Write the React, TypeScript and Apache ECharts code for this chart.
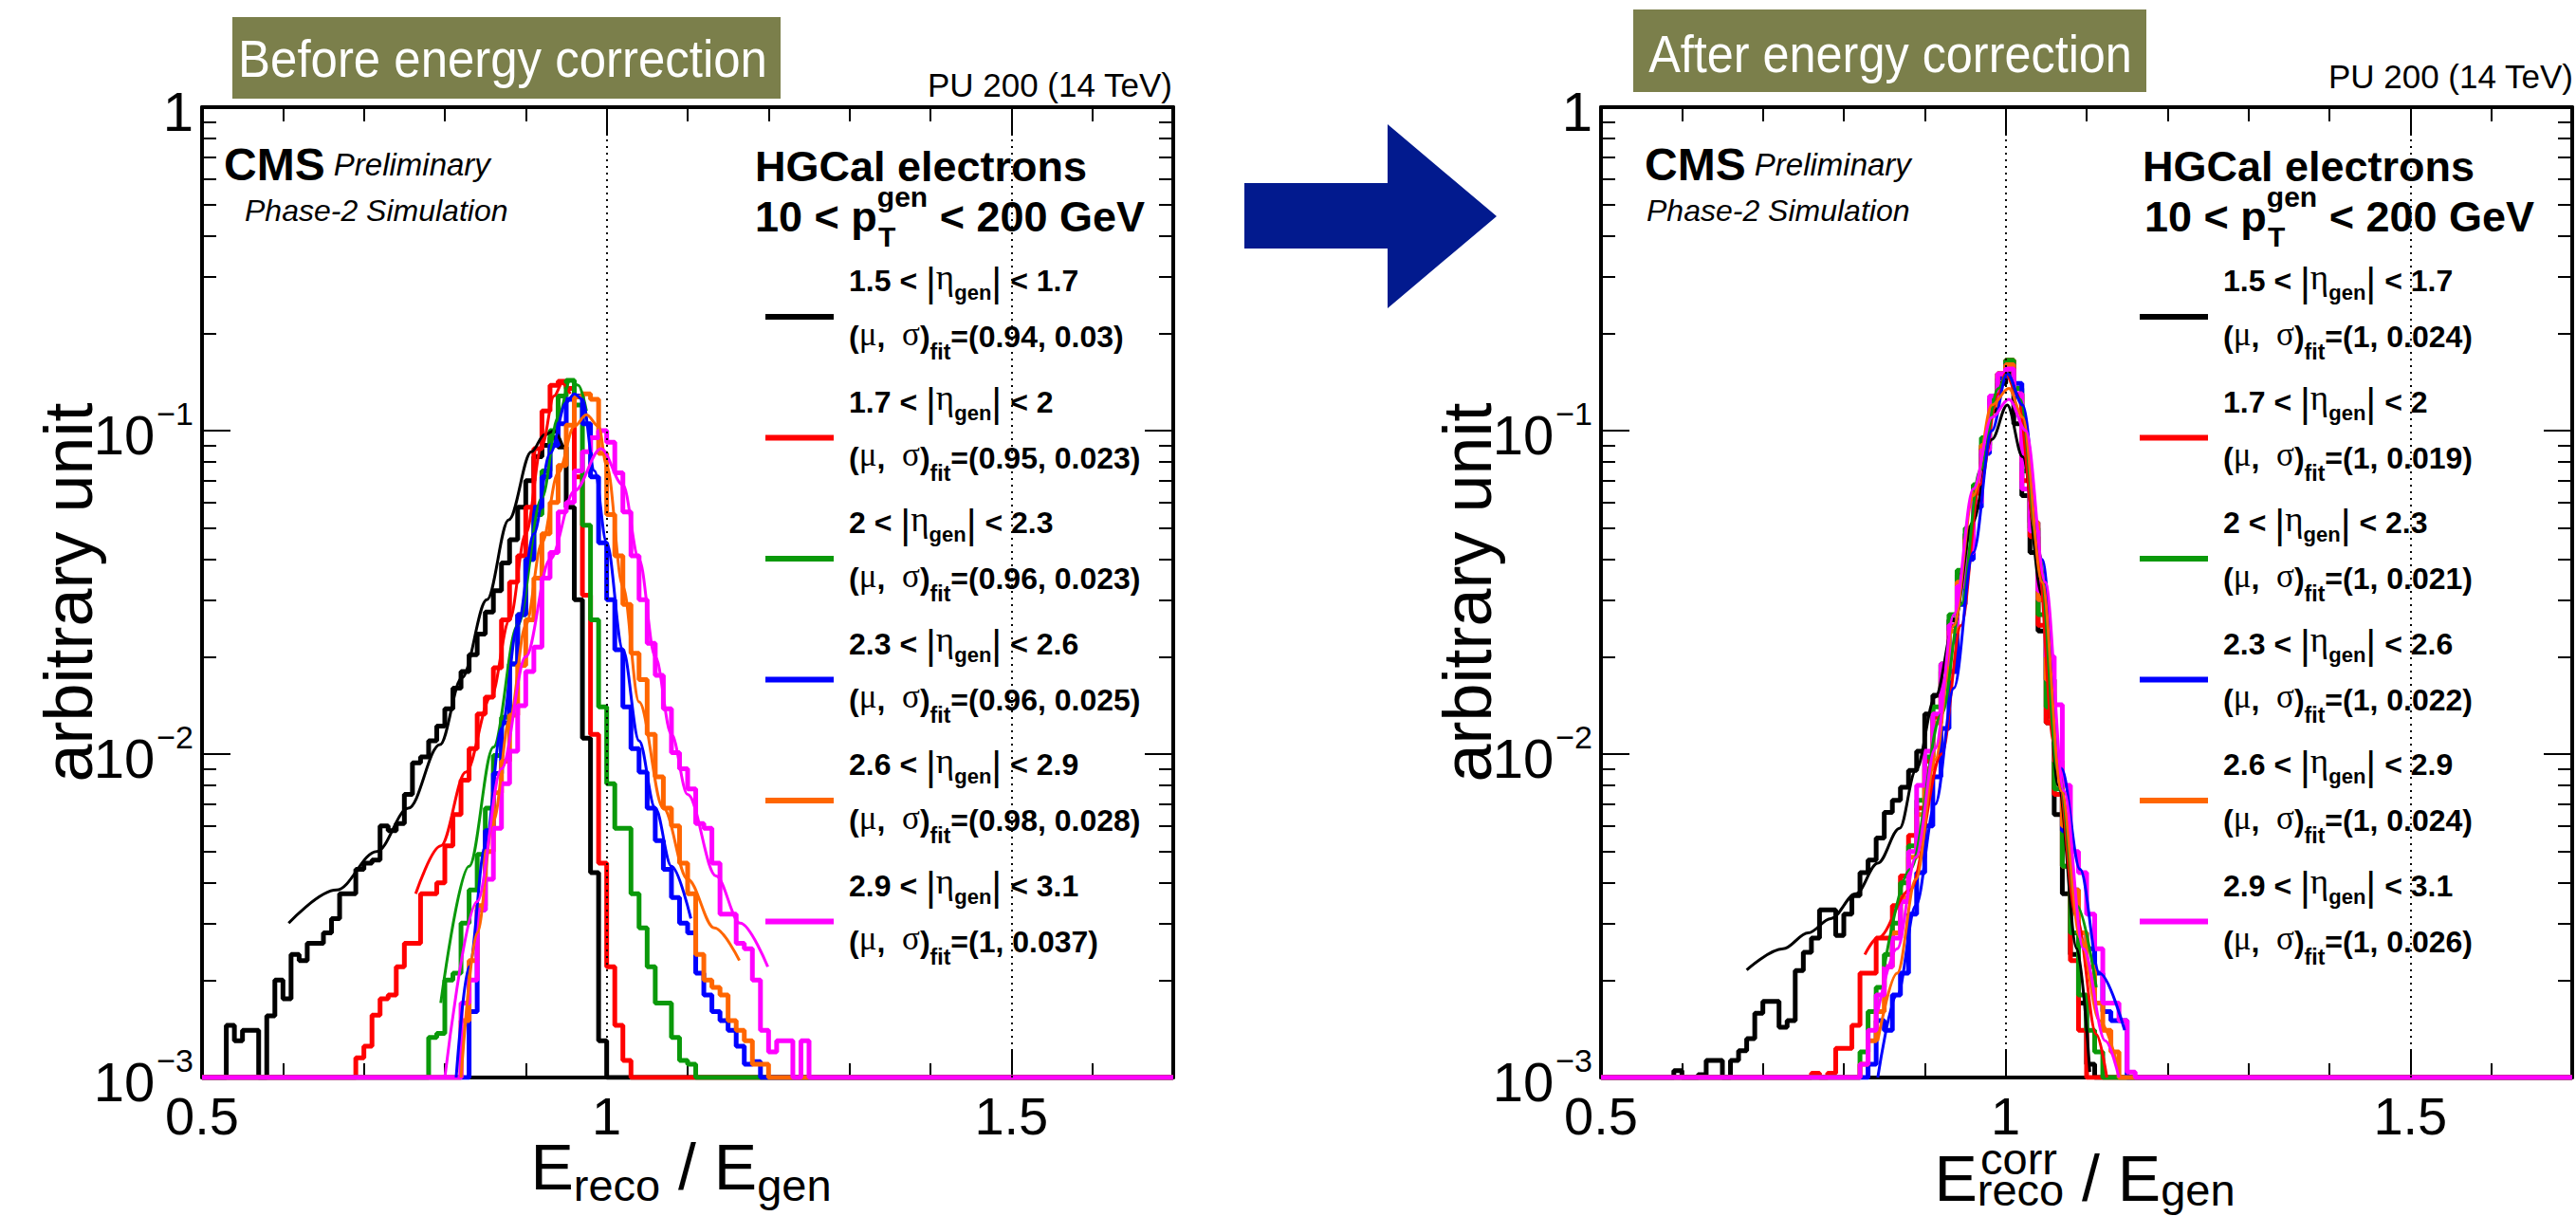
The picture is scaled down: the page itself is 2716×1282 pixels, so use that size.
import React, { useEffect, useRef } from 'react';
import * as echarts from 'echarts';

const FONT = 'Liberation Sans';
const SERIF = 'Liberation Serif';

const X_MIN = 0.5;
const X_MAX = 1.7;
const BIN_WIDTH = 0.01;
const Y_MIN = 0.001;
const Y_MAX = 1;

const X_LABEL_VALUES = [0.5, 1, 1.5];
const Y_MINOR_MULT = [2, 3, 4, 5, 6, 7, 8, 9];
const Y_DECADE_EXP = [-3, -2, -1];
const REF_LINES = [1, 1.5];

const COLORS = ['#000000', '#ff0000', '#0a990a', '#0000ff', '#ff6600', '#ff00ff'];
const ETA_LOW = ['1.5', '1.7', '2', '2.3', '2.6', '2.9'];
const ETA_HIGH = ['1.7', '2', '2.3', '2.6', '2.9', '3.1'];
const FIT_BEFORE = ['(0.94, 0.03)', '(0.95, 0.023)', '(0.96, 0.023)', '(0.96, 0.025)', '(0.98, 0.028)', '(1, 0.037)'];
const FIT_AFTER = ['(1, 0.024)', '(1, 0.019)', '(1, 0.021)', '(1, 0.022)', '(1, 0.024)', '(1, 0.026)'];

// ---- Histograms before correction (first non-empty bin low edge, then bin contents, bin width 0.01)
const BEFORE_STARTS = [0.53, 0.69, 0.78, 0.83, 0.82, 0.82];
const BEFORE_BLACK = [0.00145, 0.0013, 0.0014, 0.0014, 0.001, 0.00155, 0.002, 0.00175, 0.0024, 0.0023, 0.0026, 0.0026, 0.0028, 0.0031, 0.0037, 0.0037, 0.0044, 0.0046, 0.0047, 0.006, 0.0058, 0.0061, 0.0075, 0.0094, 0.0098, 0.011, 0.0122, 0.0138, 0.016, 0.018, 0.0203, 0.0235, 0.0275, 0.032, 0.039, 0.046, 0.058, 0.07, 0.083, 0.09, 0.095, 0.089, 0.058, 0.03, 0.0112, 0.0043, 0.0013];
const BEFORE_RED = [0.00115, 0.00125, 0.00156, 0.00175, 0.0018, 0.0022, 0.0026, 0.0026, 0.0037, 0.0037, 0.004, 0.0052, 0.0065, 0.0083, 0.0104, 0.0133, 0.015, 0.0185, 0.026, 0.034, 0.041, 0.058, 0.088, 0.115, 0.138, 0.142, 0.135, 0.072, 0.031, 0.0115, 0.0046, 0.0022, 0.00145, 0.00113];
const BEFORE_GREEN = [0.00133, 0.00137, 0.002, 0.0021, 0.003, 0.0038, 0.0049, 0.0068, 0.0099, 0.013, 0.019, 0.027, 0.04, 0.055, 0.075, 0.1, 0.128, 0.143, 0.12, 0.051, 0.026, 0.014, 0.0081, 0.0059, 0.0059, 0.0037, 0.0029, 0.0022, 0.0017, 0.0017, 0.00133, 0.00113, 0.0011];
const BEFORE_BLUE = [0.0016, 0.0033, 0.0058, 0.0087, 0.0125, 0.019, 0.027, 0.04, 0.058, 0.072, 0.09, 0.105, 0.125, 0.128, 0.105, 0.072, 0.045, 0.03, 0.021, 0.014, 0.0104, 0.0088, 0.0068, 0.0054, 0.0044, 0.0036, 0.003, 0.0028, 0.0021, 0.0018, 0.0016, 0.0015, 0.0014, 0.00125, 0.0011, 0.00112];
const BEFORE_ORANGE = [0.0015, 0.0023, 0.0034, 0.005, 0.0076, 0.0095, 0.0132, 0.0188, 0.026, 0.035, 0.048, 0.06, 0.078, 0.104, 0.127, 0.13, 0.125, 0.085, 0.055, 0.041, 0.029, 0.0205, 0.017, 0.0115, 0.0085, 0.0068, 0.006, 0.0046, 0.0037, 0.0024, 0.002, 0.0019, 0.0018, 0.0015, 0.0014, 0.0013, 0.0011, 0.0011];
const BEFORE_MAGENTA = [0.0017, 0.002, 0.0033, 0.0041, 0.0059, 0.0081, 0.0102, 0.0141, 0.018, 0.0214, 0.035, 0.042, 0.056, 0.06, 0.075, 0.086, 0.095, 0.1, 0.092, 0.074, 0.056, 0.041, 0.03, 0.022, 0.0175, 0.0138, 0.0101, 0.009, 0.0078, 0.0061, 0.0059, 0.0046, 0.0032, 0.0032, 0.0026, 0.0025, 0.002, 0.0014, 0.0012, 0.0013, 0.0013, 0.001, 0.0013];

// ---- Histograms after correction
const AFTER_STARTS = [0.59, 0.76, 0.82, 0.83, 0.82, 0.82];
const AFTER_BLACK = [0.00105, 0.001, 0.001, 0.00102, 0.00113, 0.00113, 0.001, 0.00113, 0.00121, 0.00132, 0.00158, 0.00172, 0.00172, 0.00143, 0.0015, 0.00214, 0.00244, 0.0027, 0.0033, 0.0033, 0.00275, 0.0032, 0.00365, 0.0043, 0.0047, 0.0055, 0.0066, 0.0072, 0.0079, 0.0089, 0.0102, 0.0133, 0.0152, 0.0189, 0.026, 0.036, 0.048, 0.065, 0.088, 0.115, 0.14, 0.15, 0.105, 0.063, 0.042, 0.024, 0.0125, 0.0065, 0.0037, 0.0024, 0.0017, 0.0011];
const AFTER_RED = [0.00103, 0.001, 0.00103, 0.00123, 0.00123, 0.00145, 0.0021, 0.0021, 0.0027, 0.0027, 0.0034, 0.0042, 0.0056, 0.0068, 0.0095, 0.013, 0.018, 0.025, 0.034, 0.047, 0.066, 0.09, 0.125, 0.15, 0.165, 0.13, 0.07, 0.047, 0.025, 0.0125, 0.0075, 0.0045, 0.0023, 0.0014, 0.001];
const AFTER_GREEN = [0.0012, 0.0016, 0.0019, 0.0024, 0.003, 0.004, 0.0052, 0.0072, 0.0098, 0.014, 0.019, 0.027, 0.037, 0.05, 0.068, 0.095, 0.125, 0.15, 0.165, 0.135, 0.075, 0.05, 0.027, 0.014, 0.0078, 0.0045, 0.0028, 0.0018, 0.0014, 0.0012];
const AFTER_BLUE = [0.0011, 0.0015, 0.0014, 0.0018, 0.0021, 0.0032, 0.0043, 0.006, 0.0085, 0.012, 0.018, 0.029, 0.04, 0.058, 0.085, 0.12, 0.145, 0.16, 0.14, 0.08, 0.052, 0.03, 0.017, 0.0095, 0.0058, 0.0038, 0.0028, 0.0025, 0.0021, 0.0016, 0.0015, 0.0015];
const AFTER_ORANGE = [0.0011, 0.0013, 0.0016, 0.0022, 0.0028, 0.0036, 0.0048, 0.0065, 0.009, 0.0125, 0.017, 0.024, 0.034, 0.046, 0.064, 0.09, 0.12, 0.15, 0.16, 0.13, 0.08, 0.052, 0.03, 0.017, 0.0095, 0.006, 0.0038, 0.0028, 0.0022, 0.0017, 0.0014, 0.0012];
const AFTER_MAGENTA = [0.0011, 0.0014, 0.0018, 0.0022, 0.0027, 0.0035, 0.005, 0.008, 0.0102, 0.0133, 0.019, 0.025, 0.033, 0.042, 0.06, 0.087, 0.128, 0.15, 0.155, 0.13, 0.066, 0.049, 0.032, 0.02, 0.0142, 0.008, 0.005, 0.0043, 0.0032, 0.0025, 0.0017, 0.0017, 0.0015, 0.00104];

// ---- Fit curves: [x, y]
const FIT_BEFORE_BLACK = [[0.607, 0.003], [0.666, 0.0038], [0.716, 0.005], [0.755, 0.0068], [0.794, 0.0107], [0.821, 0.0172], [0.852, 0.03], [0.879, 0.053], [0.907, 0.086], [0.923, 0.097], [0.935, 0.1], [0.946, 0.089]];
const FIT_BEFORE_RED = [[0.764, 0.0037], [0.795, 0.0052], [0.826, 0.0088], [0.857, 0.015], [0.88, 0.026], [0.9, 0.048], [0.92, 0.09], [0.935, 0.128], [0.945, 0.14], [0.955, 0.13]];
const FIT_BEFORE_GREEN = [[0.795, 0.0017], [0.83, 0.0045], [0.86, 0.0105], [0.89, 0.025], [0.92, 0.062], [0.94, 0.11], [0.955, 0.143], [0.965, 0.138], [0.975, 0.115]];
const FIT_BEFORE_BLUE = [[0.814, 0.001], [0.83, 0.0022], [0.85, 0.0052], [0.87, 0.012], [0.89, 0.025], [0.91, 0.048], [0.93, 0.085], [0.95, 0.122], [0.96, 0.13], [0.97, 0.125], [0.985, 0.075], [1.0, 0.045], [1.02, 0.021], [1.04, 0.011], [1.06, 0.0068], [1.08, 0.0045], [1.104, 0.0031]];
const FIT_BEFORE_ORANGE = [[0.82, 0.001], [0.84, 0.0028], [0.86, 0.0062], [0.88, 0.0128], [0.9, 0.025], [0.92, 0.045], [0.94, 0.074], [0.96, 0.103], [0.975, 0.112], [0.99, 0.103], [1.0, 0.078], [1.02, 0.033], [1.04, 0.0145], [1.07, 0.0068], [1.1, 0.0041], [1.133, 0.0029], [1.164, 0.0023]];
const FIT_BEFORE_MAGENTA = [[0.8, 0.001], [0.84, 0.0035], [0.87, 0.009], [0.9, 0.02], [0.93, 0.04], [0.96, 0.065], [0.993, 0.088], [1.02, 0.068], [1.04, 0.04], [1.06, 0.02], [1.08, 0.0115], [1.1, 0.0075], [1.135, 0.0042], [1.165, 0.003], [1.199, 0.0022]];

const FIT_AFTER_BLACK = [[0.68, 0.00215], [0.725, 0.0025], [0.756, 0.0028], [0.784, 0.0031], [0.815, 0.0037], [0.842, 0.0046], [0.869, 0.0059], [0.889, 0.0089], [0.913, 0.015], [0.936, 0.025], [0.959, 0.052], [0.983, 0.094], [1.002, 0.12], [1.021, 0.083], [1.045, 0.031], [1.065, 0.008], [1.088, 0.0025], [1.104, 0.00104]];
const FIT_AFTER_RED = [[0.826, 0.0024], [0.842, 0.0027], [0.882, 0.0038], [0.921, 0.01], [0.945, 0.025], [0.968, 0.068], [0.991, 0.13], [1.0, 0.15], [1.014, 0.13], [1.037, 0.049], [1.06, 0.0108], [1.088, 0.0031], [1.112, 0.00136], [1.125, 0.001]];
const FIT_AFTER_GREEN = [[0.85, 0.0022], [0.882, 0.0044], [0.921, 0.0133], [0.945, 0.029], [0.968, 0.075], [0.991, 0.135], [1.002, 0.15], [1.018, 0.125], [1.041, 0.042], [1.065, 0.0088], [1.088, 0.0034], [1.112, 0.0019]];
const FIT_AFTER_BLUE = [[0.842, 0.001], [0.866, 0.0018], [0.889, 0.0034], [0.913, 0.007], [0.936, 0.016], [0.96, 0.042], [0.983, 0.1], [1.002, 0.15], [1.021, 0.12], [1.045, 0.04], [1.069, 0.009], [1.092, 0.0044], [1.116, 0.0021], [1.147, 0.0014]];
const FIT_AFTER_ORANGE = [[0.842, 0.0013], [0.866, 0.0021], [0.889, 0.0041], [0.913, 0.0096], [0.936, 0.025], [0.96, 0.063], [0.983, 0.12], [1.004, 0.135], [1.021, 0.11], [1.045, 0.034], [1.069, 0.0077], [1.092, 0.0027], [1.116, 0.0015], [1.14, 0.00105]];
const FIT_AFTER_MAGENTA = [[0.842, 0.0016], [0.866, 0.0025], [0.889, 0.0048], [0.913, 0.0104], [0.936, 0.027], [0.96, 0.066], [0.983, 0.11], [1.004, 0.125], [1.025, 0.1], [1.049, 0.034], [1.072, 0.0077], [1.096, 0.0025], [1.123, 0.0013], [1.14, 0.001]];

const BOX_COLOR = '#7b7f4b';
const ARROW_COLOR = '#021a8e';

function histPoints(start: number, vals: number[]): number[][] {
  const nBins = Math.round((X_MAX - X_MIN) / BIN_WIDTH);
  const s = Math.round((start - X_MIN) / BIN_WIDTH);
  const pts: number[][] = [];
  let last = Y_MIN;
  for (let k = 0; k < nBins; k++) {
    const j = k - s;
    const v = j >= 0 && j < vals.length ? vals[j] : Y_MIN;
    pts.push([+(X_MIN + k * BIN_WIDTH).toFixed(4), v]);
    last = v;
  }
  pts.push([X_MAX, last]);
  return pts;
}

const TICK_STYLE = { color: '#000', width: 2 };
const FRAME_STYLE = { color: '#000', width: 4 };

const Y_LABEL_RICH = {
  b: { fontFamily: FONT, fontSize: 58, color: '#000', verticalAlign: 'top', height: 0, lineHeight: 60, padding: [34, 0, 0, 0] },
  s: { fontFamily: FONT, fontSize: 34, color: '#000', verticalAlign: 'top', height: 0, lineHeight: 60, padding: [12, 0, 0, 2] },
};

const X_TITLE_RICH = {
  m: { fontFamily: FONT, fontSize: 68, color: '#000', verticalAlign: 'top', height: 0, lineHeight: 80, padding: [40, 0, 0, 0] },
  s: { fontFamily: FONT, fontSize: 47, color: '#000', verticalAlign: 'top', height: 0, lineHeight: 80, padding: [60, 0, 0, 0] },
  se: { fontFamily: FONT, fontSize: 47, color: '#000', verticalAlign: 'top', height: 0, lineHeight: 80, padding: [60, 14, 0, 0] },
  r: { fontFamily: FONT, fontSize: 47, color: '#000', verticalAlign: 'top', height: 0, lineHeight: 80, padding: [52, 0, 0, 0] },
  re: { fontFamily: FONT, fontSize: 47, color: '#000', verticalAlign: 'top', height: 0, lineHeight: 80, padding: [52, 4, 0, 0] },
};
const X_TITLES = ['{m|E}{s|reco}{m| / E}{se|gen}', '{m|E}{r|reco}{m| / E}{re|gen}'];

const LT = { fontFamily: FONT, fontWeight: 'bold', fontSize: 32, color: '#000', verticalAlign: 'top', height: 0 };
const LEG_RICH = {
  a: { ...LT, lineHeight: 59, padding: [30, 0, 0, 11] },
  t: { ...LT, lineHeight: 59, padding: [30, 0, 0, 0] },
  bar: { fontFamily: FONT, fontSize: 42, color: '#000', verticalAlign: 'top', height: 0, lineHeight: 59, padding: [31, 0, 0, 0] },
  eta: { fontFamily: SERIF, fontSize: 37, color: '#000', verticalAlign: 'top', height: 0, lineHeight: 59, padding: [26, 0, 0, 0] },
  sub: { ...LT, fontSize: 22, lineHeight: 59, padding: [42, 0, 0, 0] },
  a2: { ...LT, lineHeight: 77, padding: [30, 0, 0, 11] },
  t2: { ...LT, lineHeight: 77, padding: [30, 0, 0, 0] },
  sym: { fontFamily: SERIF, fontSize: 35, color: '#000', verticalAlign: 'top', height: 0, lineHeight: 77, padding: [27, 0, 0, 0] },
  sub2: { ...LT, fontSize: 23, lineHeight: 77, padding: [46, 0, 0, 0] },
};

function legendText(i: number, fits: string[]): string {
  return `{a|${ETA_LOW[i]} < }{bar||}{eta|η}{sub|gen}{bar||}{t| < ${ETA_HIGH[i]}}\n{a2|(}{sym|μ}{t2|,  }{sym|σ}{t2|)}{sub2|fit}{t2|=${fits[i]}}`;
}

function xLabel(v: number): string {
  return X_LABEL_VALUES.some((t) => Math.abs(t - v) < 1e-6) ? String(Math.round(v * 10) / 10) : '';
}

function yLabel(v: number): string {
  const e = Math.round(Math.log10(v));
  return e === 0 ? '{b|1}' : `{b|10}{s|\u2212${-e}}`;
}

function txt(x: number, y: number, text: string, extra: any, el: any = {}) {
  return {
    type: 'text', x, y, silent: true, ...el,
    style: { text, fill: '#000', fontFamily: FONT, align: 'left', textAlign: 'left', verticalAlign: 'middle', textVerticalAlign: 'middle', ...extra },
  };
}

function buildOption() {
  const minorPos = Y_DECADE_EXP.flatMap((d) => Y_MINOR_MULT.map((m) => d + Math.log10(m)));
  const panels = [
    {
      tag: 'before', starts: BEFORE_STARTS, fitText: FIT_BEFORE, legendLeft: 807,
      hists: [BEFORE_BLACK, BEFORE_RED, BEFORE_GREEN, BEFORE_BLUE, BEFORE_ORANGE, BEFORE_MAGENTA],
      fits: [FIT_BEFORE_BLACK, FIT_BEFORE_RED, FIT_BEFORE_GREEN, FIT_BEFORE_BLUE, FIT_BEFORE_ORANGE, FIT_BEFORE_MAGENTA],
    },
    {
      tag: 'after', starts: AFTER_STARTS, fitText: FIT_AFTER, legendLeft: 2256,
      hists: [AFTER_BLACK, AFTER_RED, AFTER_GREEN, AFTER_BLUE, AFTER_ORANGE, AFTER_MAGENTA],
      fits: [FIT_AFTER_BLACK, FIT_AFTER_RED, FIT_AFTER_GREEN, FIT_AFTER_BLUE, FIT_AFTER_ORANGE, FIT_AFTER_MAGENTA],
    },
  ];
  const grids = [
    { left: 213, top: 113, width: 1024, height: 1023, outerBoundsMode: 'none', containLabel: false },
    { left: 1688, top: 113, width: 1024, height: 1023, outerBoundsMode: 'none', containLabel: false },
  ];
  const xAxis: any[] = [];
  const yAxis: any[] = [];
  const series: any[] = [];
  const legend: any[] = [];

  panels.forEach((p, g) => {
    const xb = { gridIndex: g, type: 'value', min: X_MIN, max: X_MAX, splitLine: { show: false }, silent: true };
    xAxis.push({
      ...xb, position: 'bottom', interval: 0.5,
      axisLine: { show: true, onZero: false, lineStyle: FRAME_STYLE },
      axisTick: { show: true, inside: true, length: 30, lineStyle: TICK_STYLE },
      axisLabel: { show: true, margin: 12, fontSize: 56, fontFamily: FONT, color: '#000', lineHeight: 56, formatter: xLabel },
      name: X_TITLES[g], nameLocation: 'middle', nameGap: g === 0 ? 53.5 : 66, nameMoveOverlap: false,
      nameTextStyle: { rich: X_TITLE_RICH },
    });
    xAxis.push({
      ...xb, position: 'bottom', interval: 0.1, axisLine: { show: false, onZero: false },
      axisTick: { show: true, inside: true, length: 15, lineStyle: TICK_STYLE }, axisLabel: { show: false },
    });
    xAxis.push({
      ...xb, position: 'top', interval: 0.5,
      axisLine: { show: true, onZero: false, lineStyle: FRAME_STYLE },
      axisTick: { show: true, inside: true, length: 30, lineStyle: TICK_STYLE }, axisLabel: { show: false },
    });
    xAxis.push({
      ...xb, position: 'top', interval: 0.1, axisLine: { show: false, onZero: false },
      axisTick: { show: true, inside: true, length: 15, lineStyle: TICK_STYLE }, axisLabel: { show: false },
    });

    const yl = { gridIndex: g, type: 'log', logBase: 10, min: Y_MIN, max: Y_MAX, splitLine: { show: false }, silent: true };
    const ym = { gridIndex: g, type: 'value', min: -3, max: 0, splitLine: { show: false }, silent: true, axisLine: { show: false, onZero: false }, axisLabel: { show: false } };
    yAxis.push({
      ...yl, position: 'left',
      axisLine: { show: true, onZero: false, lineStyle: FRAME_STYLE },
      axisTick: { show: true, inside: true, length: 30, lineStyle: TICK_STYLE },
      axisLabel: { show: true, margin: 9, formatter: yLabel, rich: Y_LABEL_RICH },
      name: 'arbitrary unit', nameLocation: 'middle', nameRotate: 90, nameGap: 105, nameMoveOverlap: false,
      nameTextStyle: { fontSize: 72, fontFamily: FONT, color: '#000', lineHeight: 72 },
    });
    yAxis.push({ ...ym, position: 'left', axisTick: { show: true, inside: true, length: 15, customValues: minorPos, lineStyle: TICK_STYLE } });
    yAxis.push({
      ...yl, position: 'right',
      axisLine: { show: true, onZero: false, lineStyle: FRAME_STYLE },
      axisTick: { show: true, inside: true, length: 30, lineStyle: TICK_STYLE }, axisLabel: { show: false },
    });
    yAxis.push({ ...ym, position: 'right', axisTick: { show: true, inside: true, length: 15, customValues: minorPos, lineStyle: TICK_STYLE } });

    const names: string[] = [];
    p.hists.forEach((h, i) => {
      const name = `${ETA_LOW[i]} < |η_gen| < ${ETA_HIGH[i]} (${p.tag})`;
      names.push(name);
      series.push({
        type: 'line', name, xAxisIndex: g * 4, yAxisIndex: g * 4,
        data: histPoints(p.starts[i], h), step: 'end', symbol: 'none', showSymbol: false,
        lineStyle: { color: COLORS[i], width: 5 }, itemStyle: { color: COLORS[i] },
        z: 2, silent: true, clip: true, emphasis: { disabled: true },
        markLine: i === 0 ? {
          silent: true, symbol: ['none', 'none'], label: { show: false },
          lineStyle: { color: '#000', type: [2, 5], width: 2 },
          data: REF_LINES.map((v) => ({ xAxis: v })),
        } : undefined,
      });
    });
    p.fits.forEach((f, i) => {
      series.push({
        type: 'line', name: `fit ${ETA_LOW[i]}-${ETA_HIGH[i]} (${p.tag})`, xAxisIndex: g * 4, yAxisIndex: g * 4,
        data: f, smooth: 0.35, smoothMonotone: 'x', symbol: 'none', showSymbol: false,
        lineStyle: { color: COLORS[i], width: 3 }, itemStyle: { color: COLORS[i] },
        z: 3, silent: true, clip: true, emphasis: { disabled: true },
      });
    });
    legend.push({
      show: true, orient: 'vertical', left: p.legendLeft, top: 266, padding: 0, itemGap: 11,
      itemWidth: 72, itemHeight: 6, icon: 'rect', selectedMode: false, data: names,
      itemStyle: { borderWidth: 0 },
      formatter: (name: string) => legendText(names.indexOf(name), p.fitText),
      textStyle: { color: '#000', rich: LEG_RICH },
    });
  });

  const headRich = {
    m: { fontFamily: FONT, fontWeight: 'bold', fontSize: 45, fill: '#000', verticalAlign: 'top', height: 0, lineHeight: 10, padding: [26, 0, 0, 0] },
    g: { fontFamily: FONT, fontWeight: 'bold', fontSize: 30, fill: '#000', verticalAlign: 'top', height: 0, lineHeight: 10, padding: [5, 0, 0, 0] },
  };
  const cmsRich = {
    b: { fontFamily: FONT, fontWeight: 'bold', fontSize: 48, fill: '#000' },
    i: { fontFamily: FONT, fontStyle: 'italic', fontSize: 33, fill: '#000' },
  };

  const graphic: any[] = [
    { type: 'rect', silent: true, shape: { x: 245, y: 18, width: 578, height: 86 }, style: { fill: BOX_COLOR } },
    txt(0, 0, 'Before energy correction', { fill: '#ffffff', fontSize: 56, align: 'center', textAlign: 'center' }, { x: 530, y: 62, scaleX: 0.91 }),
    { type: 'rect', silent: true, shape: { x: 1722, y: 10, width: 541, height: 87 }, style: { fill: BOX_COLOR } },
    txt(0, 0, 'After energy correction', { fill: '#ffffff', fontSize: 56, align: 'center', textAlign: 'center' }, { x: 1993, y: 57, scaleX: 0.9 }),
    {
      type: 'polygon', silent: true,
      shape: { points: [[1312, 193], [1463, 193], [1463, 131], [1578, 228], [1463, 325], [1463, 262], [1312, 262]] },
      style: { fill: ARROW_COLOR },
    },
    txt(1236, 89, 'PU 200 (14 TeV)', { fontSize: 35, align: 'right', textAlign: 'right' }),
    txt(2713, 80, 'PU 200 (14 TeV)', { fontSize: 35, align: 'right', textAlign: 'right' }),
    txt(236, 173, '{b|CMS} {i|Preliminary}', { fontSize: 33, rich: cmsRich }),
    txt(258, 222, 'Phase-2 Simulation', { fontSize: 32, fontStyle: 'italic' }),
    txt(1734, 173, '{b|CMS} {i|Preliminary}', { fontSize: 33, rich: cmsRich }),
    txt(1736, 222, 'Phase-2 Simulation', { fontSize: 32, fontStyle: 'italic' }),
    txt(796, 175, 'HGCal electrons', { fontSize: 45, fontWeight: 'bold', lineHeight: 44 }),
    txt(2259, 175, 'HGCal electrons', { fontSize: 45, fontWeight: 'bold', lineHeight: 44 }),
    txt(796, 202, '{m|10 < p}{g|gen}{m| < 200 GeV}', { verticalAlign: 'top', textVerticalAlign: 'top', rich: headRich }),
    txt(926, 249, 'T', { fontSize: 30, fontWeight: 'bold', lineHeight: 24 }),
    txt(2261, 202, '{m|10 < p}{g|gen}{m| < 200 GeV}', { verticalAlign: 'top', textVerticalAlign: 'top', rich: headRich }),
    txt(2391, 249, 'T', { fontSize: 30, fontWeight: 'bold', lineHeight: 24 }),
    txt(2088, 1221, 'corr', { fontSize: 47, lineHeight: 20 }),
  ];

  return {
    animation: false,
    backgroundColor: '#ffffff',
    textStyle: { fontFamily: FONT },
    grid: grids,
    xAxis,
    yAxis,
    legend,
    series,
    graphic,
  };
}

const App = () => {
  const ref = useRef<HTMLDivElement>(null);
  useEffect(() => {
    if (!ref.current) return;
    const chart = echarts.init(ref.current, null, { renderer: 'svg' });
    chart.setOption(buildOption() as any);
    return () => chart.dispose();
  }, []);
  return (
    <div
      ref={ref}
      style={{ position: 'fixed', left: 0, top: 0, width: 2716, height: 1282, background: '#ffffff' }}
    />
  );
};

export default App;
